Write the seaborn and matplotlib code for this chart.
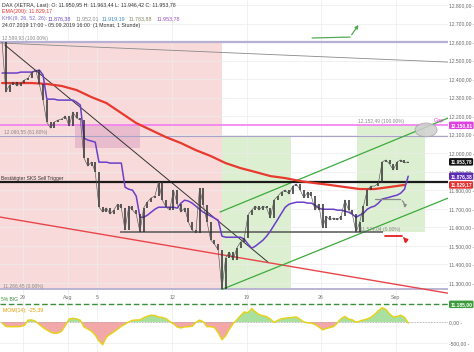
import numpy as np
import pandas as pd
import matplotlib
matplotlib.use("Agg")
import matplotlib.pyplot as plt
import seaborn as sns
from matplotlib.patches import Rectangle, Ellipse

sns.set_style("white")
plt.rcParams['font.family'] = ['Liberation Sans', 'DejaVu Sans']

# x axis = trading days, 0 = Mon 29.07.2019; price data every quarter day
day0 = -1.4
step = 0.25

close = [12599.93, 12330, 12368, 12384, 12363, 12379, 12395, 12406, 12438, 12449,
         12374, 12287, 12168, 12136, 12168, 12179, 12185, 12201, 12147, 12223,
         12190, 12179, 11974, 11931, 11953, 11899, 11710, 11683, 11705, 11672,
         11694, 11726, 11705, 11586, 11715, 11694, 11672, 11575, 11705, 11737,
         11759, 11769, 11845, 11748, 11710, 11694, 11802, 11726, 11683, 11705,
         11629, 11586, 11570, 11812, 11721, 11629, 11532, 11510, 11478, 11266.45,
         11435, 11467, 11424, 11489, 11521, 11543, 11667, 11694, 11715, 11694,
         11715, 11705, 11651, 11748, 11769, 11791, 11802, 11780, 11823, 11834,
         11802, 11759, 11791, 11769, 11694, 11726, 11597, 11661, 11640, 11651,
         11640, 11661, 11748, 11694, 11672, 11574.04, 11629, 11715, 11802, 11823,
         11823, 11839, 11953, 11964, 11942, 11910, 11953, 11964, 11948, 11953.78]

kijun = [12433, 12433, 12433, 12433, 12433, 12438, 12438, 12438, 12438, 12444,
         12449, 12422, 12292, 12292, 12292, 12287, 12287, 12287, 12287, 12287,
         12276, 12260, 12082, 12071, 12066, 12060, 11952, 11952, 11952, 11947,
         11947, 11947, 11947, 11817, 11806, 11801, 11769, 11655, 11655, 11666,
         11682, 11698, 11709, 11709, 11709, 11709, 11709, 11704, 11731, 11747,
         11742, 11731, 11715, 11698, 11682, 11671, 11661, 11650, 11639, 11553,
         11547, 11547, 11547, 11547, 11547, 11537, 11510, 11488, 11499, 11515,
         11531, 11553, 11580, 11612, 11644, 11677, 11709, 11725, 11731, 11736,
         11736, 11736, 11731, 11731, 11720, 11704, 11698, 11698, 11698, 11698,
         11693, 11693, 11688, 11682, 11671, 11655, 11666, 11677, 11698, 11709,
         11715, 11731, 11753, 11758, 11763, 11769, 11774, 11785, 11806, 11876.38]

mom14 = [-20, -105, -111, -111, -111, -105, -80, 45, 48, 15,
         -60, -130, -190, -240, -270, -262, -215, -80, 70, 88,
         75, 40, -120, -165, -220, -310, -450, -540, -360, -290,
         -235, -170, -100, -50, 0, 40, 48, 48, 100, 135,
         160, 155, 120, 105, 80, 10, -40, -120, -140, -115,
         -111, -100, -10, 45, 5, -111, -111, -130, -250, -420,
         -330, -170, -40, 48, 150, 240, 220, 320, 240, 175,
         150, 127, 70, -10, 40, 75, 92, 100, 110, 120,
         60, 0, -18, -28, -60, -115, -185, -155, -130, -108,
         -20, 80, 130, 70, 50, -5, 20, 48, 70, 110,
         180, 270, 340, 300, 190, 120, 130, 160, 110, -25.39]

# EMA(200), one value per trading day
ema200 = [12379, 12379, 12379, 12374, 12363, 12341, 12303, 12271, 12217, 12163,
          12125, 12087, 12055, 12017, 11985, 11947, 11920, 11899, 11877, 11866,
          11850, 11839, 11829, 11818, 11807, 11807, 11818, 11829.17]

date_ticks = [0, 3, 5, 10, 15, 20, 25]
date_labels = ['29', 'Aug', '5', '12', '19', '26', 'Sep']
price_ticks = [11300, 11400, 11500, 11600, 11700, 11800, 11900, 12000,
               12100, 12200, 12300, 12400, 12500, 12600, 12700, 12800]
mom_ticks = [0, -500]

fib_pink = [12599.93, 12090.55, 11266.45]
fib_green = [12152.49, 11574.04]
gap_level = 12150.81
sks_trigger = 11845
big_level = 11185


def de(v):
    return f"{v:,.2f}".replace(",", "X").replace(".", ",").replace("X", ".")


df = pd.DataFrame({'day': day0 + step * np.arange(len(close)),
                   'close': close, 'kijun': kijun, 'mom': mom14})
df_ema = pd.DataFrame({'day': day0 + np.arange(len(ema200)), 'ema': ema200})

W, H = 474, 352
fig = plt.figure(figsize=(W / 100, H / 100), dpi=100)
ax = fig.add_axes([0, 1 - 306 / H, 448 / W, 306 / H])
axm = fig.add_axes([0, 0, 448 / W, 46 / H], sharex=ax)

xmin, xmax = -1.54, 28.52
ax.set_xlim(xmin, xmax)
ax.set_ylim(11176, 12827)
axm.set_ylim(-714, 381)

for a in (ax, axm):
    for s in a.spines.values():
        s.set_visible(False)
    a.set_xticks(date_ticks)
    a.grid(True, color='#ececec', lw=0.5)
    a.set_axisbelow(True)
    a.tick_params(axis='x', labelbottom=False, length=0)
    a.yaxis.tick_right()
    a.tick_params(axis='y', length=0, pad=1, labelsize=3.6, labelcolor='#666')

ax.set_yticks(price_ticks)
ax.set_yticklabels([de(v) + ' -' for v in price_ticks])
axm.set_yticks(mom_ticks)
axm.set_yticklabels([de(v) + ' -' for v in mom_ticks])

# shaded zones (fibonacci boxes)
ax.add_patch(Rectangle((xmin, fib_pink[2]), 13.36 - xmin, fib_pink[0] - fib_pink[2],
                       color='#f9dada', zorder=0.5, lw=0))
ax.add_patch(Rectangle((3.49, 12028), 4.36, 124, color='#e9bccd', zorder=0.6, lw=0))
ax.add_patch(Rectangle((13.36, fib_pink[2]), 4.63, fib_pink[1] - fib_pink[2],
                       color='#dcefd0', zorder=0.5, lw=0))
ax.add_patch(Rectangle((22.42, fib_green[1]), 4.56, fib_green[0] - fib_green[1],
                       color='#dcefd0', zorder=0.5, lw=0))

# horizontal levels
ax.axhline(fib_pink[0], color='#b6b0d2', lw=1.6, zorder=1)
ax.axhline(fib_pink[1], color='#a9a3c9', lw=0.8, zorder=1)
ax.axhline(fib_pink[2], color='#b6b0d2', lw=1.3, zorder=1)
ax.axhline(gap_level, color='#f27ef2', lw=1.2, zorder=1)
ax.axhline(sks_trigger, color='#1a1a1a', lw=1.6, zorder=3)
ax.hlines(fib_green[1], 6.51, 24.16, color='#555555', lw=1.1, zorder=3)
ax.axhline(big_level, color='#3b8f3b', lw=1.0, ls=(0, (4, 2)), zorder=3)

# trend lines
ax.plot([xmin, xmax], [12595, 12492], color='#8a8a8a', lw=0.6, zorder=2)
ax.plot([-1.21, 16.44], [12584, 11413], color='#333333', lw=0.7, zorder=2)
ax.plot([xmin, xmax], [11656, 11245], color='#e8454a', lw=1.0, zorder=2)
ax.plot([13.22, xmax], [11683, 12190], color='#3daa3d', lw=0.9, zorder=2)
ax.plot([13.36, xmax], [11266, 11758], color='#3daa3d', lw=0.9, zorder=2)

# indicator lines
sns.lineplot(data=df_ema, x='day', y='ema', ax=ax, color='#e8392f', lw=1.6, zorder=4)
sns.lineplot(data=df, x='day', y='kijun', ax=ax, color='#6a3fc8', lw=1.1, zorder=5)

# price bars (open = previous close)
prev = df['close'].shift(1).fillna(df['close'])
ax.vlines(df['day'], np.minimum(prev, df['close']), np.maximum(prev, df['close']),
          color='#2e2e2e', lw=1.1, zorder=6)
sns.lineplot(data=df, x='day', y='close', ax=ax, color='#555555', lw=0.45, zorder=6)

# gap marker
ax.add_patch(Ellipse((27.05, 12126), 1.48, 75, facecolor='#cfcfcf', edgecolor='#999999',
                     lw=0.5, alpha=0.85, zorder=7))
ax.text(27.55, 12168, 'Gap', color='#e040e0', fontsize=4, zorder=8)

# arrows
ax.plot([23.62, 25.30], [11753, 11753], color='#8a8a8a', lw=0.9, zorder=7)
ax.annotate('', xy=(25.57, 11690), xytext=(25.30, 11753), zorder=7,
            arrowprops=dict(arrowstyle='-|>', color='#8a8a8a', lw=0.9, mutation_scale=4,
                            connectionstyle='arc3,rad=-0.4'))
ax.plot([24.30, 25.44], [11554, 11554], color='#e52020', lw=1.3, zorder=7)
ax.annotate('', xy=(25.57, 11497), xytext=(25.44, 11554), zorder=7,
            arrowprops=dict(arrowstyle='-|>', color='#e52020', lw=1.3, mutation_scale=5,
                            connectionstyle='arc3,rad=-0.4'))
ax.plot([19.40, 21.95], [12622, 12627], color='#55a855', lw=0.9, zorder=7)
ax.annotate('', xy=(22.62, 12705), xytext=(21.95, 12627), zorder=7,
            arrowprops=dict(arrowstyle='-|>', color='#55a855', lw=0.9, mutation_scale=5))

# level annotations
ts = dict(fontsize=3.5, color='#888888', zorder=8)
ax.text(-1.4, fib_pink[0] + 12, '12.599,93 (100.00%)', **ts)
ax.text(-1.3, fib_pink[1] + 12, '12.090,55 (61.80%)', **ts)
ax.text(-1.35, fib_pink[2] + 8, '11.266,45 (0.00%)', **ts)
ax.text(22.5, fib_green[0] + 12, '12.152,49 (100.00%)', **ts)
ax.text(22.6, fib_green[1] + 8, '11.574,04 (0.00%)', **ts)
ax.text(xmin + 0.05, sks_trigger + 12, 'Bestätigter SKS Sell Trigger', fontsize=3.6,
        color='#333333', zorder=8)
ax.text(-1.45, big_level + 20, '5% BIG', fontsize=3.6, color='#3b8f3b', zorder=8)

for d, lab in zip(date_ticks, date_labels):
    ax.text(d, 0.022, lab, transform=ax.get_xaxis_transform(), ha='center',
            fontsize=3.8, color='#777777', zorder=8)

# value tags on the right axis
tags = [(12150.81, '#e040e0'), (11953.78, '#111111'), (11876.38, '#5b2bb5'),
        (11829.17, '#e53030'), (11185.00, '#3b9b3b')]
for val, col in tags:
    ax.text(1.005, val, de(val), transform=ax.get_yaxis_transform(), fontsize=3.6,
            color='white', va='center', ha='left', fontweight='bold', clip_on=False,
            bbox=dict(boxstyle='round,pad=0.25', fc=col, ec='none'), zorder=9)

# momentum panel
axm.axhline(0, color='#aaaaaa', lw=0.5, ls=(0, (2, 2)))
axm.fill_between(df['day'], df['mom'], 0, where=df['mom'] >= 0, interpolate=True,
                 color='#a8e0a0', lw=0)
axm.fill_between(df['day'], df['mom'], 0, where=df['mom'] < 0, interpolate=True,
                 color='#f2a8a8', lw=0)
sns.lineplot(data=df, x='day', y='mom', ax=axm, color='#e6d21e', lw=1.1)
axm.text(-1.35, 250, 'MOM(14): -25,39', fontsize=3.8, color='#e0a000')
for a in (ax, axm):
    a.set_xlabel('')
    a.set_ylabel('')


# header
def ftext(x, y, s, c, **kw):
    fig.text(x / W, 1 - y / H, s, color=c, fontsize=3.8, va='center', ha='left', **kw)


ftext(2, 5, 'DAX (XETRA, Last): O: 11.950,95 H: 11.963,44 L: 11.946,42 C: 11.953,78', '#333333')
ftext(2, 12, 'EMA(200): 11.829,17', '#e53030')
ftext(2, 18.5, 'KHK(9, 26, 52, 26):', '#7a6cc8')
ftext(48, 18.5, '11.876,38', '#6a3fc8')
ftext(76, 18.5, '11.952,01', '#888888')
ftext(102, 18.5, '11.919,19', '#3a8fd0')
ftext(129, 18.5, '11.783,88', '#888866')
ftext(157, 18.5, '11.953,78', '#a050c0')
ftext(2, 25, '24.07.2019 17:00 - 05.09.2019 16:00  (1 Monat, 1 Stunde)', '#333333')

fig.savefig('out.png', dpi=100)
